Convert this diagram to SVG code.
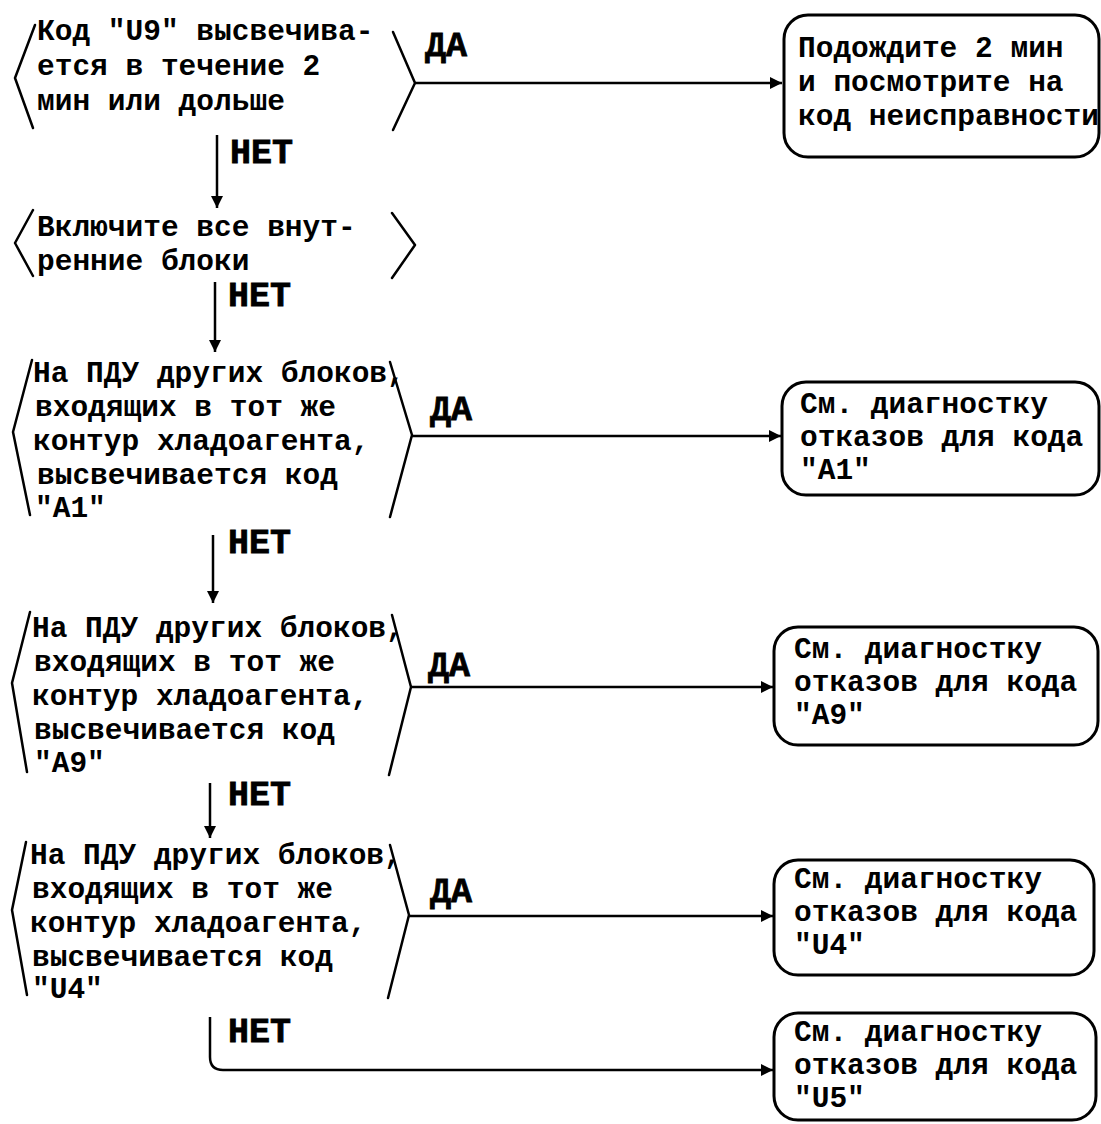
<svg xmlns="http://www.w3.org/2000/svg" width="1101" height="1124" viewBox="0 0 1101 1124">
<defs>
<style>
.t{font-family:"Liberation Mono","Courier New",monospace;font-weight:bold;font-size:29.5px;fill:#000}
.l{font-family:"Liberation Mono","Courier New",monospace;font-weight:bold;font-size:35px;fill:#000;stroke:#000;stroke-width:0.8}
.br{fill:none;stroke:#000;stroke-width:2.5;stroke-linejoin:round;stroke-linecap:round}
.bx{fill:none;stroke:#000;stroke-width:3}
.c{fill:none;stroke:#000;stroke-width:2.5}
</style>
<marker id="ah" markerUnits="userSpaceOnUse" markerWidth="14" markerHeight="12" refX="12" refY="6" orient="auto">
<polygon points="0,0 12,6 0,12" fill="#000"/>
</marker>
</defs>
<rect width="1101" height="1124" fill="#fff"/>

<g id="n1">
<polyline class="br" points="35,25 15,78 33,128"/>
<polyline class="br" points="393,32 415,83 393,130"/>
<text class="t" x="37" y="40">Код "U9" высвечива-</text>
<text class="t" x="37" y="75">ется в течение 2</text>
<text class="t" x="37" y="110">мин или дольше</text>
</g>

<g id="n2">
<polyline class="br" points="33,210 15,243 33,276"/>
<polyline class="br" points="392,213 415,245 392,278"/>
<text class="t" x="37" y="236">Включите все внут-</text>
<text class="t" x="37" y="270">ренние блоки</text>
</g>

<g id="n3">
<polyline class="br" points="32,360 13,432 30,515"/>
<polyline class="br" points="390,362 412,435 390,517"/>
<text class="t" x="33" y="382">На ПДУ других блоков,</text>
<text class="t" x="35" y="416">входящих в тот же</text>
<text class="t" x="33" y="450">контур хладоагента,</text>
<text class="t" x="37" y="484">высвечивается код</text>
<text class="t" x="35" y="517">"A1"</text>
</g>

<g id="n4">
<polyline class="br" points="30,612 12,683 27,772"/>
<polyline class="br" points="392,615 411,687 389,775"/>
<text class="t" x="32" y="637">На ПДУ других блоков,</text>
<text class="t" x="34" y="671">входящих в тот же</text>
<text class="t" x="32" y="705">контур хладоагента,</text>
<text class="t" x="34" y="739">высвечивается код</text>
<text class="t" x="34" y="772">"A9"</text>
</g>

<g id="n5">
<polyline class="br" points="26,842 12,910 27,995"/>
<polyline class="br" points="390,845 409,915 388,998"/>
<text class="t" x="30" y="864">На ПДУ других блоков,</text>
<text class="t" x="32" y="898">входящих в тот же</text>
<text class="t" x="30" y="932">контур хладоагента,</text>
<text class="t" x="32" y="966">высвечивается код</text>
<text class="t" x="32" y="998">"U4"</text>
</g>

<g id="b1">
<rect class="bx" x="784" y="15" width="315" height="142" rx="24"/>
<text class="t" x="798" y="57">Подождите 2 мин</text>
<text class="t" x="798" y="91">и посмотрите на</text>
<text class="t" x="798" y="125">код неисправности</text>
</g>

<g id="b2">
<rect class="bx" x="782" y="382" width="317" height="113" rx="24"/>
<text class="t" x="800" y="413">См. диагностку</text>
<text class="t" x="800" y="446">отказов для кода</text>
<text class="t" x="800" y="479">"A1"</text>
</g>

<g id="b3">
<rect class="bx" x="774" y="627" width="324" height="118" rx="24"/>
<text class="t" x="794" y="658">См. диагностку</text>
<text class="t" x="794" y="691">отказов для кода</text>
<text class="t" x="794" y="724">"A9"</text>
</g>

<g id="b4">
<rect class="bx" x="774" y="860" width="320" height="115" rx="24"/>
<text class="t" x="794" y="888">См. диагностку</text>
<text class="t" x="794" y="921">отказов для кода</text>
<text class="t" x="794" y="954">"U4"</text>
</g>

<g id="b5">
<rect class="bx" x="774" y="1013" width="322" height="107" rx="24"/>
<text class="t" x="794" y="1041">См. диагностку</text>
<text class="t" x="794" y="1074">отказов для кода</text>
<text class="t" x="794" y="1107">"U5"</text>
</g>

<g id="connectors">
<line class="c" x1="415" y1="83" x2="782" y2="83" marker-end="url(#ah)"/>
<line class="c" x1="412" y1="436" x2="781" y2="436" marker-end="url(#ah)"/>
<line class="c" x1="411" y1="687" x2="773" y2="687" marker-end="url(#ah)"/>
<line class="c" x1="409" y1="916" x2="773" y2="916" marker-end="url(#ah)"/>
<line class="c" x1="217" y1="135" x2="217" y2="208" marker-end="url(#ah)"/>
<line class="c" x1="215" y1="282" x2="215" y2="352" marker-end="url(#ah)"/>
<line class="c" x1="213" y1="535" x2="213" y2="603" marker-end="url(#ah)"/>
<line class="c" x1="210" y1="783" x2="210" y2="838" marker-end="url(#ah)"/>
<path class="c" d="M210,1017 V1057 Q210,1070 223,1070 H773" marker-end="url(#ah)"/>
<text class="l" x="425" y="56">ДА</text>
<text class="l" x="430" y="420">ДА</text>
<text class="l" x="428" y="676">ДА</text>
<text class="l" x="430" y="902">ДА</text>
<text class="l" x="230" y="163">НЕТ</text>
<text class="l" x="228" y="306">НЕТ</text>
<text class="l" x="228" y="553">НЕТ</text>
<text class="l" x="228" y="805">НЕТ</text>
<text class="l" x="228" y="1042">НЕТ</text>
</g>
</svg>
